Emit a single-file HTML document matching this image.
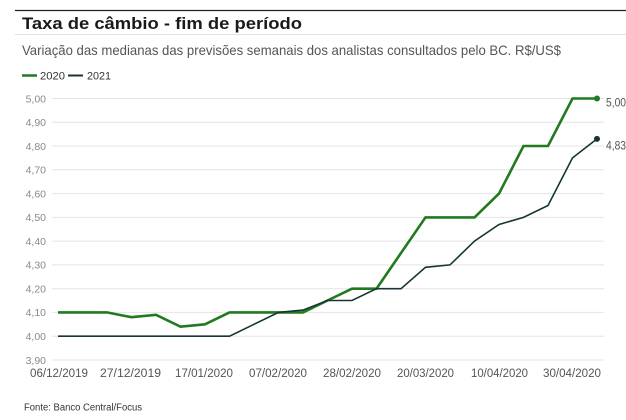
<!DOCTYPE html>
<html>
<head>
<meta charset="utf-8">
<style>
  html, body { margin: 0; padding: 0; background: #ffffff; }
  body { width: 626px; height: 420px; overflow: hidden; }
  svg { display: block; }
  text { font-family: "Liberation Sans", "DejaVu Sans", sans-serif; }
</style>
</head>
<body>
<svg width="626" height="420" viewBox="0 0 626 420" xmlns="http://www.w3.org/2000/svg">
  <rect x="0" y="0" width="626" height="420" fill="#ffffff"/>

  <!-- header rules -->
  <line x1="15" y1="10.5" x2="626" y2="10.5" stroke="#222" stroke-width="1.3"/>
  <line x1="15" y1="34.5" x2="626" y2="34.5" stroke="#e2e2e2" stroke-width="1"/>

  <!-- title -->
  <text x="22" y="29" font-size="17" font-weight="bold" fill="#1a1a1a" textLength="280" lengthAdjust="spacingAndGlyphs">Taxa de câmbio - fim de período</text>
  <!-- subtitle -->
  <text x="22" y="55" font-size="14" fill="#555" textLength="539" lengthAdjust="spacingAndGlyphs">Variação das medianas das previsões semanais dos analistas consultados pelo BC. R$/US$</text>

  <!-- legend -->
  <line x1="22" y1="75.5" x2="37" y2="75.5" stroke="#217a1f" stroke-width="2.5"/>
  <text x="40" y="79.5" font-size="11" fill="#333" textLength="25" lengthAdjust="spacingAndGlyphs">2020</text>
  <line x1="68" y1="75.5" x2="83" y2="75.5" stroke="#173535" stroke-width="2"/>
  <text x="87" y="79.5" font-size="11" fill="#333" textLength="24" lengthAdjust="spacingAndGlyphs">2021</text>

  <!-- gridlines -->
  <g stroke="#e4e4e4" stroke-width="1">
    <line x1="52" y1="98.5" x2="604" y2="98.5"/>
    <line x1="52" y1="122.3" x2="604" y2="122.3"/>
    <line x1="52" y1="146.0" x2="604" y2="146.0"/>
    <line x1="52" y1="169.8" x2="604" y2="169.8"/>
    <line x1="52" y1="193.6" x2="604" y2="193.6"/>
    <line x1="52" y1="217.4" x2="604" y2="217.4"/>
    <line x1="52" y1="241.1" x2="604" y2="241.1"/>
    <line x1="52" y1="264.9" x2="604" y2="264.9"/>
    <line x1="52" y1="288.7" x2="604" y2="288.7"/>
    <line x1="52" y1="312.4" x2="604" y2="312.4"/>
    <line x1="52" y1="336.2" x2="604" y2="336.2"/>
    <line x1="52" y1="360.0" x2="604" y2="360.0"/>
  </g>

  <!-- y labels -->
  <g font-size="10.5" fill="#8a8a8a" text-anchor="end">
    <text x="46" y="102.3">5,00</text>
    <text x="46" y="126.1">4,90</text>
    <text x="46" y="149.8">4,80</text>
    <text x="46" y="173.6">4,70</text>
    <text x="46" y="197.4">4,60</text>
    <text x="46" y="221.2">4,50</text>
    <text x="46" y="244.9">4,40</text>
    <text x="46" y="268.7">4,30</text>
    <text x="46" y="292.5">4,20</text>
    <text x="46" y="316.2">4,10</text>
    <text x="46" y="340.0">4,00</text>
    <text x="46" y="363.8">3,90</text>
  </g>

  <!-- x labels -->
  <g font-size="11.5" fill="#555" text-anchor="middle">
    <text x="59" y="377" textLength="58" lengthAdjust="spacingAndGlyphs">06/12/2019</text>
    <text x="130.5" y="377" textLength="61" lengthAdjust="spacingAndGlyphs">27/12/2019</text>
    <text x="204" y="377" textLength="58" lengthAdjust="spacingAndGlyphs">17/01/2020</text>
    <text x="278" y="377" textLength="58" lengthAdjust="spacingAndGlyphs">07/02/2020</text>
    <text x="352" y="377" textLength="58" lengthAdjust="spacingAndGlyphs">28/02/2020</text>
    <text x="425.5" y="377" textLength="57" lengthAdjust="spacingAndGlyphs">20/03/2020</text>
    <text x="499.5" y="377" textLength="57" lengthAdjust="spacingAndGlyphs">10/04/2020</text>
    <text x="572" y="377" textLength="58" lengthAdjust="spacingAndGlyphs">30/04/2020</text>
  </g>

  <!-- 2020 series (green) -->
  <polyline fill="none" stroke="#217a1f" stroke-width="2.6" stroke-linejoin="miter" stroke-linecap="butt"
    points="58,312.4 82.5,312.4 107,312.4 131.5,317.2 156,314.8 180.5,326.7 205,324.3 229.5,312.4 254,312.4 278.5,312.4 303,312.4 327.5,300.5 352,288.7 376.5,288.7 401,253.0 425.5,217.4 450,217.4 474.5,217.4 499,193.6 523.5,146.0 548,146.0 572.5,98.5 597,98.5"/>
  <circle cx="597" cy="98.5" r="3" fill="#217a1f"/>

  <!-- 2021 series (dark) -->
  <polyline fill="none" stroke="#173535" stroke-width="1.6" stroke-linejoin="miter"
    points="58,336.2 82.5,336.2 107,336.2 131.5,336.2 156,336.2 180.5,336.2 205,336.2 229.5,336.2 254,324.3 278.5,312.4 303,310.1 327.5,300.5 352,300.5 376.5,288.7 401,288.7 425.5,267.3 450,264.9 474.5,241.1 499,224.5 523.5,217.4 548,205.5 572.5,157.9 597,138.9"/>
  <circle cx="597" cy="138.9" r="3" fill="#173535"/>

  <!-- end labels -->
  <text x="606" y="106.5" font-size="12" fill="#555" textLength="20" lengthAdjust="spacingAndGlyphs">5,00</text>
  <text x="606" y="149.5" font-size="12" fill="#555" textLength="20" lengthAdjust="spacingAndGlyphs">4,83</text>

  <!-- source -->
  <text x="24" y="410.5" font-size="10" fill="#333" textLength="118" lengthAdjust="spacingAndGlyphs">Fonte: Banco Central/Focus</text>
</svg>
</body>
</html>
